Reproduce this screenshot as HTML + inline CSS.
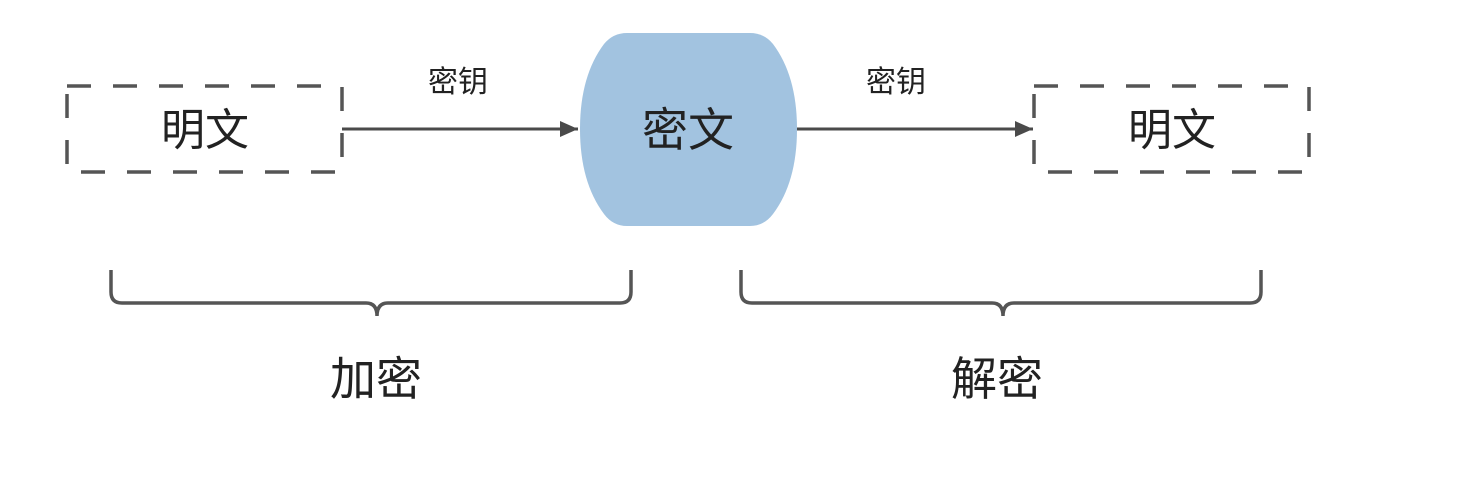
<!DOCTYPE html>
<html><head><meta charset="utf-8"><style>
html,body{margin:0;padding:0;background:#fff;}
svg{display:block;}
text{font-family:"Liberation Sans","Noto Sans CJK SC",sans-serif;fill:#222;}
</style></head><body>
<svg width="1459" height="494" viewBox="0 0 1459 494" xmlns="http://www.w3.org/2000/svg">
<defs>
<marker id="b" markerWidth="20" markerHeight="20" refX="18" refY="8" orient="auto" markerUnits="userSpaceOnUse"><path d="M0,0 L18,8 L0,16 Z" fill="#4a4a4a"/></marker></defs>
<rect x="67" y="86" width="275" height="86" fill="none" stroke="#555" stroke-width="3.5" stroke-dasharray="24,22"/>
<rect x="1034" y="86" width="275" height="86" fill="none" stroke="#555" stroke-width="3.5" stroke-dasharray="24,22"/>
<line x1="342" y1="129" x2="578" y2="129" stroke="#4a4a4a" stroke-width="3" marker-end="url(#b)"/>
<line x1="797" y1="129" x2="1033" y2="129" stroke="#4a4a4a" stroke-width="3" marker-end="url(#b)"/>
<path d="M627,33 L750,33 Q764,33 773,44 Q797,76 797,129 Q797,182 773,214 Q764,226 750,226 L627,226 Q613,226 604,214 Q580,182 580,129 Q580,76 604,44 Q613,33 627,33 Z" fill="#a2c3e0"/>
<text x="205" y="145" font-size="44" text-anchor="middle">明文</text>
<text x="1172" y="145" font-size="44" text-anchor="middle">明文</text>
<text x="688" y="146" font-size="46" text-anchor="middle">密文</text>
<text x="458" y="92" font-size="30" text-anchor="middle">密钥</text>
<text x="896" y="92" font-size="30" text-anchor="middle">密钥</text>
<path d="M111,270 L111,292 Q111,303 122,303 L366,303 Q377,303 377,316 Q377,303 388,303 L620,303 Q631,303 631,292 L631,270" fill="none" stroke="#555" stroke-width="3.5"/>
<path d="M741,270 L741,292 Q741,303 752,303 L992,303 Q1003,303 1003,316 Q1003,303 1014,303 L1250,303 Q1261,303 1261,292 L1261,270" fill="none" stroke="#555" stroke-width="3.5"/>
<text x="376" y="395" font-size="46" text-anchor="middle">加密</text>
<text x="997" y="395" font-size="46" text-anchor="middle">解密</text>
</svg>
</body></html>
